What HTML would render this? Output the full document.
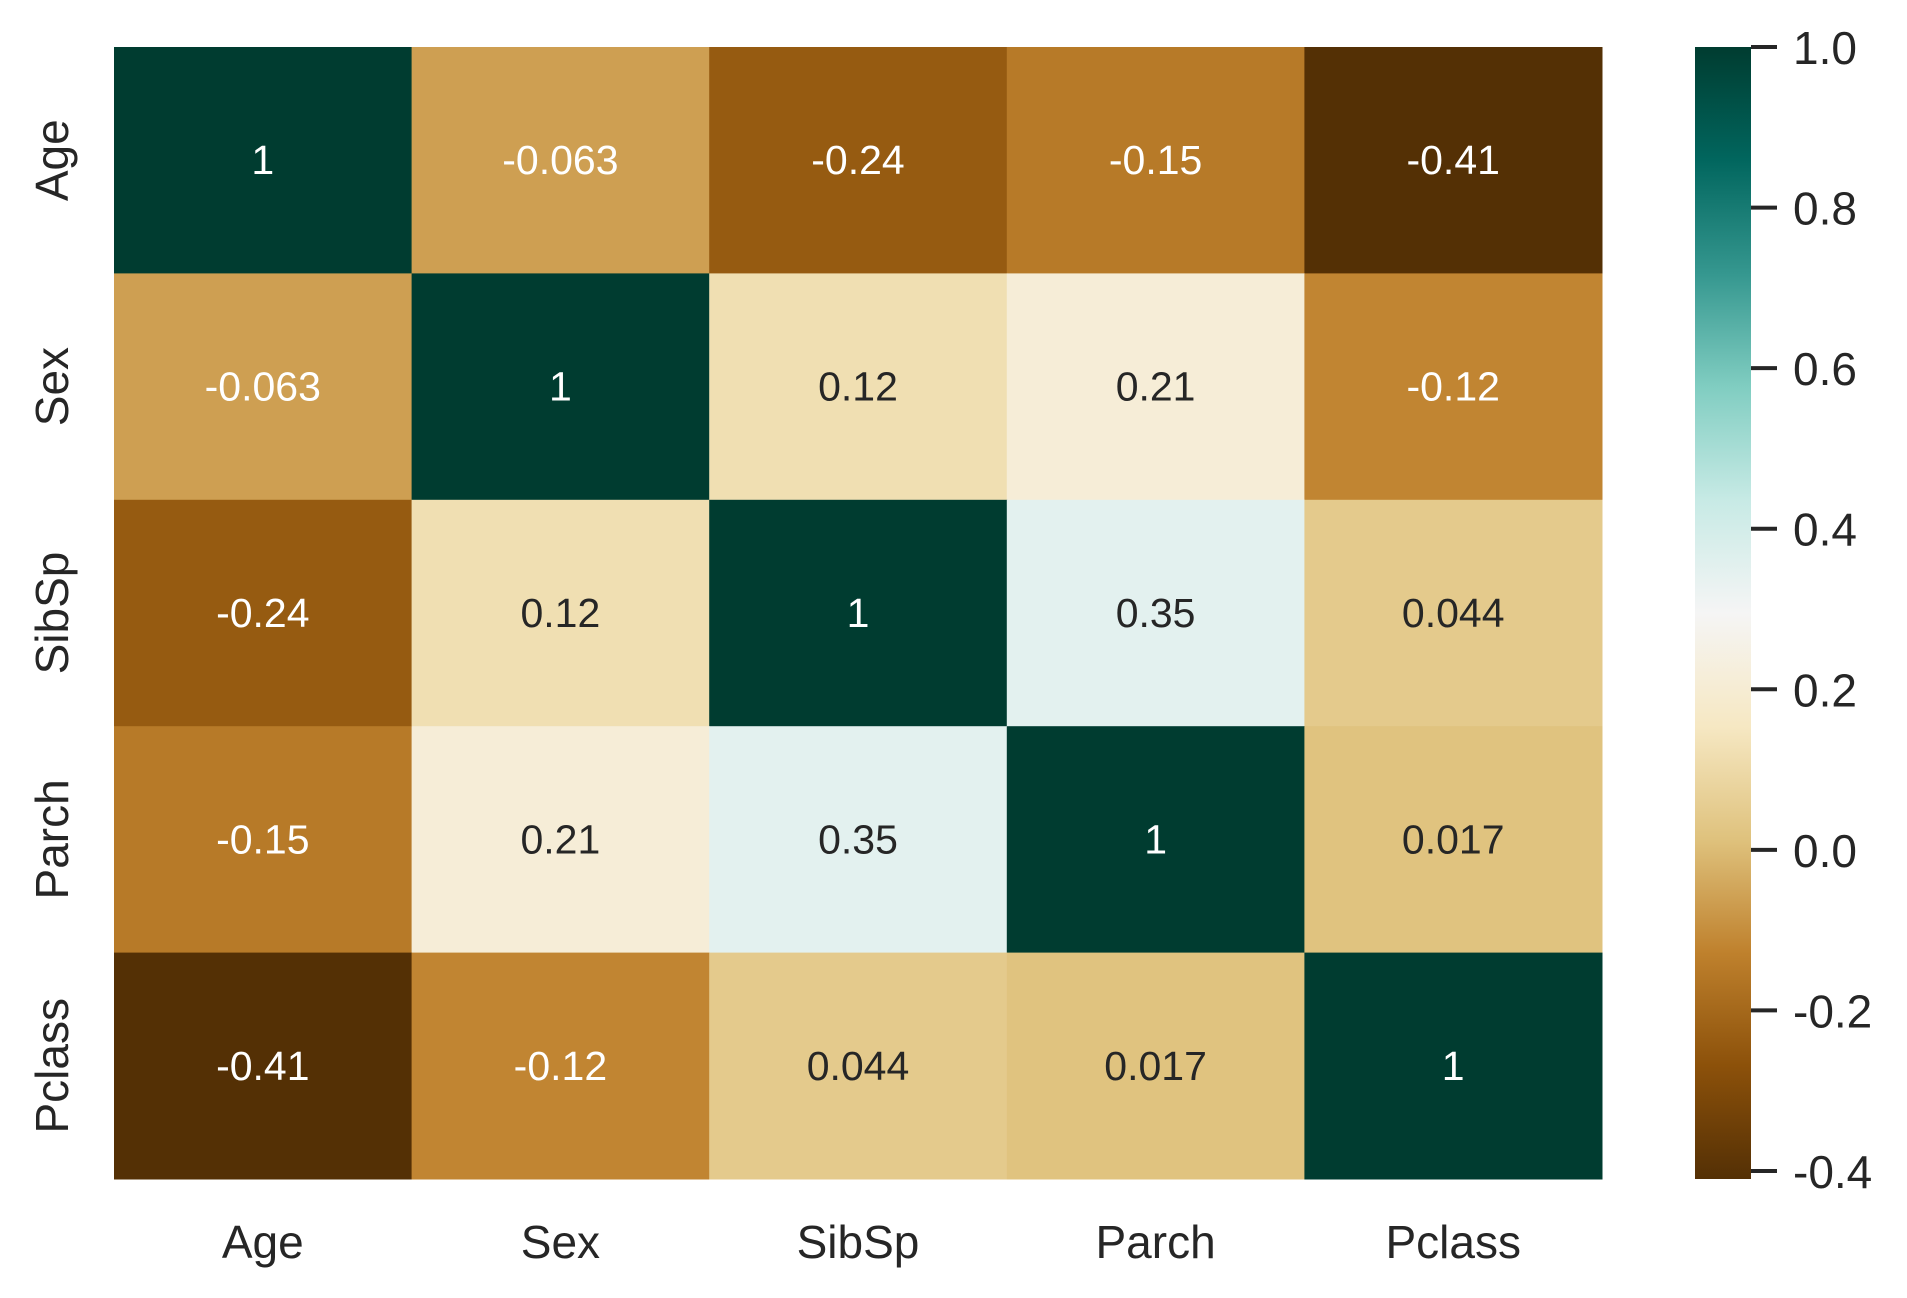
<!DOCTYPE html>
<html><head><meta charset="utf-8"><style>
html,body{margin:0;padding:0;background:#fff;}
svg text{font-family:"Liberation Sans","NanumGothic",sans-serif;}
</style></head><body>
<svg id="chart" width="1907" height="1293" xmlns="http://www.w3.org/2000/svg">
<defs><linearGradient id="cbgrad" x1="0" y1="1" x2="0" y2="0"></linearGradient></defs>
<g id="cells"></g>
<g id="annots"></g>
<g id="xlabels"></g>
<g id="ylabels"></g>
<g id="colorbar"></g>
</svg>
<script>
const categories = ["Age","Sex","SibSp","Parch","Pclass"];
const row0 = [1, -0.063, -0.24, -0.15, -0.41];
const row1 = [-0.063, 1, 0.12, 0.21, -0.12];
const row2 = [-0.24, 0.12, 1, 0.35, 0.044];
const row3 = [-0.15, 0.21, 0.35, 1, 0.017];
const row4 = [-0.41, -0.12, 0.044, 0.017, 1];
const matrix = [row0,row1,row2,row3,row4];
const cbTicks = [-0.4,-0.2,0.0,0.2,0.4,0.6,0.8,1.0];
const cbTickLabels = ["-0.4","-0.2","0.0","0.2","0.4","0.6","0.8","1.0"];
const vmin = -0.41, vmax = 1.0;

const NS="http://www.w3.org/2000/svg";
const L=114, R=1602, T=47, B=1179;
const cw=(R-L)/categories.length, ch=(B-T)/categories.length;
const stops=["#543005","#8c510a","#bf812d","#dfc27d","#f6e8c3","#f5f5f5","#c7eae5","#80cdc1","#35978f","#01665e","#003c30"];
function hex(h){return [1,3,5].map(i=>parseInt(h.substr(i,2),16));}
function lin(c){c/=255;return c<=0.03928?c/12.92:Math.pow((c+0.055)/1.055,2.4);}
function cmap(v){
  let t=(v-vmin)/(vmax-vmin); t=Math.max(0,Math.min(1,t));
  const p=t*(stops.length-1), i=Math.min(Math.floor(p),stops.length-2), f=p-i;
  const a=hex(stops[i]), b=hex(stops[i+1]);
  const c=a.map((x,k)=>Math.round(x+(b[k]-x)*f));
  return {css:`rgb(${c[0]},${c[1]},${c[2]})`, lum:0.2126*lin(c[0])+0.7152*lin(c[1])+0.0722*lin(c[2])};
}
function xs(j){return L+j*cw;}
function ys(i){return T+i*ch;}
function mk(tag,attrs,parent){const e=document.createElementNS(NS,tag);for(const k in attrs)e.setAttribute(k,attrs[k]);parent.appendChild(e);return e;}
const gc=document.getElementById('cells'), ga=document.getElementById('annots');
matrix.forEach((row,i)=>row.forEach((v,j)=>{
  const c=cmap(v);
  const r=mk('rect',{x:xs(j),y:ys(i),width:cw+0.5,height:ch+0.5,fill:c.css},gc);
  
  
  const t=mk('text',{x:xs(j)+cw/2,y:ys(i)+ch/2+14,'text-anchor':'middle','font-size':41,fill:c.lum<0.408?'#ffffff':'#262626'},ga);
  t.textContent=String(v);
  
  
}));
const gx=document.getElementById('xlabels'), gy=document.getElementById('ylabels');
categories.forEach((c,j)=>{
  const t=mk('text',{x:xs(j)+cw/2,y:1258,'text-anchor':'middle','font-size':46,fill:'#262626'},gx);
  t.textContent=c;
  
  
  const cy=ys(j)+ch/2;
  const u=mk('text',{x:0,y:0,'text-anchor':'middle','font-size':46,fill:'#262626',transform:`translate(68,${cy}) rotate(-90)`},gy);
  u.textContent=c;
  
  
});
const grad=document.getElementById('cbgrad');
stops.forEach((s,k)=>mk('stop',{offset:k/(stops.length-1),'stop-color':s},grad));
const gcb=document.getElementById('colorbar');
const cbx=1695, cbw=56;
const bar=mk('rect',{x:cbx,y:T,width:cbw,height:B-T,fill:'url(#cbgrad)'},gcb);


function cy(v){return B-(v-vmin)/(vmax-vmin)*(B-T);}
cbTicks.forEach((v,k)=>{
  const y=cy(v);
  const l=mk('line',{x1:cbx+cbw,x2:cbx+cbw+26,y1:y,y2:y,stroke:'#262626','stroke-width':4},gcb);
  
  
  const t=mk('text',{x:1793,y:y+17,'font-size':46,fill:'#262626'},gcb);
  t.textContent=cbTickLabels[k];
  
  
});
</script>
</body></html>
